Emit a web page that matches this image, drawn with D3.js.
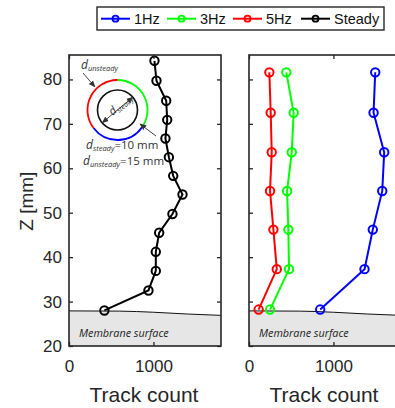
<!DOCTYPE html>
<html>
<head>
<meta charset="utf-8">
<script src="https://cdn.jsdelivr.net/npm/d3@7"></script>
<style>
  html, body { margin: 0; padding: 0; background: #fff; }
  svg { display: block; }
  .tick text { font-family: "Liberation Sans", Arial, sans-serif; font-size: 17px; fill: #262626; }
</style>
</head>
<body>
<svg id="chart" width="395" height="408"></svg>
<script>
// Height above the membrane (mm) and track counts per run
const steadyZ = [28.0, 32.5, 36.9, 41.2, 45.5, 49.7, 54.1, 58.3, 62.5, 66.7, 70.9, 75.2, 79.7, 84.2];
const steadyCount = [419, 941, 1028, 1028, 1068, 1225, 1344, 1234, 1183, 1142, 1163, 1151, 1036, 1012];

const pulseZ = [28.2, 37.3, 46.2, 54.9, 63.6, 72.5, 81.6];
const count1Hz = [843, 1368, 1466, 1578, 1601, 1475, 1495];
const count3Hz = [249, 474, 466, 451, 506, 529, 442];
const count5Hz = [114, 329, 289, 249, 269, 257, 241];

// Membrane surface profile
const surfaceCount = [0, 600, 1000, 1400, 1800];
const surfaceZ = [27.9, 27.85, 27.6, 27.2, 26.9];

const legendLabels = ["1Hz", "3Hz", "5Hz", "Steady"];
const legendColors = ["#0000ff", "#00ff00", "#ff0000", "#000000"];

const yTicks = [20, 30, 40, 50, 60, 70, 80];
const xTicks = [0, 1000];

const svg = d3.select("#chart");
const axisColor = "#262626";
const font = '"Liberation Sans", Arial, sans-serif';

const y = d3.scaleLinear().domain([20, 85.5]).range([346, 55]);
const xLeft = d3.scaleLinear().domain([0, 1800]).range([69, 221]);
const xRight = d3.scaleLinear().domain([0, 1800]).range([249, 401]);

function drawPanel(x, id, series, showYLabels) {
  const g = svg.append("g");
  const [x0, x1] = x.range();
  const [yb, yt] = y.range();

  g.append("clipPath").attr("id", id)
    .append("rect").attr("x", x0).attr("y", yt).attr("width", x1 - x0).attr("height", yb - yt);

  const plot = g.append("g").attr("clip-path", `url(#${id})`);

  // membrane surface region
  const surf = surfaceCount.map((c, i) => [c, surfaceZ[i]]);
  plot.append("path")
    .datum(surf)
    .attr("d", d3.area().x(d => x(d[0])).y0(y(20)).y1(d => y(d[1])).curve(d3.curveMonotoneX))
    .attr("fill", "#e6e6e6");
  plot.append("path")
    .datum(surf)
    .attr("d", d3.line().x(d => x(d[0])).y(d => y(d[1])).curve(d3.curveMonotoneX))
    .attr("fill", "none").attr("stroke", "#111").attr("stroke-width", 1);

  plot.append("text")
    .attr("x", x(0) + 10).attr("y", 337)
    .attr("font-family", '"Open Sans", "Noto Sans", sans-serif')
    .attr("font-style", "italic").attr("font-size", 10.8)
    .attr("fill", "#222")
    .text("Membrane surface");

  // series
  series.forEach(s => {
    const pts = s.z.map((z, i) => [s.c[i], z]);
    plot.append("path")
      .datum(pts)
      .attr("d", d3.line().x(d => x(d[0])).y(d => y(d[1])))
      .attr("fill", "none").attr("stroke", s.color).attr("stroke-width", 2);
    plot.selectAll(null).data(pts).enter().append("circle")
      .attr("cx", d => x(d[0])).attr("cy", d => y(d[1])).attr("r", 4.2)
      .attr("fill", "none").attr("stroke", s.color).attr("stroke-width", 2);
  });

  // axes with inward ticks
  const left = g.append("g").attr("transform", `translate(${x0},0)`)
    .call(d3.axisLeft(y).tickValues(yTicks).tickSize(-4).tickPadding(7)
      .tickFormat(showYLabels ? d3.format("d") : () => ""));
  const right = g.append("g").attr("transform", `translate(${x1},0)`)
    .call(d3.axisRight(y).tickValues(yTicks).tickSize(-4).tickFormat(() => ""));
  const bottom = g.append("g").attr("transform", `translate(0,${yb})`)
    .call(d3.axisBottom(x).tickValues(xTicks).tickSize(-4).tickPadding(14).tickFormat(d3.format("d")));
  const top = g.append("g").attr("transform", `translate(0,${yt})`)
    .call(d3.axisTop(x).tickValues(xTicks).tickSize(-4).tickFormat(() => ""));
  [left, right, bottom, top].forEach(a => {
    a.select(".domain").remove();
    a.selectAll("line").attr("stroke", axisColor).attr("stroke-width", 1.3);
  });

  g.append("rect")
    .attr("x", x0).attr("y", yt).attr("width", x1 - x0).attr("height", yb - yt)
    .attr("fill", "none").attr("stroke", axisColor).attr("stroke-width", 1.6);

  g.append("text")
    .attr("x", (x(0) + x(1800)) / 2 - 1).attr("y", 402)
    .attr("text-anchor", "middle")
    .attr("font-family", font).attr("font-size", 21).attr("fill", axisColor)
    .text("Track count");
  return g;
}

drawPanel(xLeft, "clipL", [
  { z: steadyZ, c: steadyCount, color: "#000000" }
], true);

drawPanel(xRight, "clipR", [
  { z: pulseZ, c: count5Hz, color: "#ff0000" },
  { z: pulseZ, c: count3Hz, color: "#00ff00" },
  { z: pulseZ, c: count1Hz, color: "#0000ff" }
], false);

// y-axis title
svg.append("text")
  .attr("transform", `translate(33,${y(52.6)}) rotate(-90)`)
  .attr("text-anchor", "middle")
  .attr("font-family", font).attr("font-size", 19).attr("fill", axisColor)
  .text("Z [mm]");

// inset sketch of the nozzle diameters
const defs = svg.append("defs");
defs.append("marker").attr("id", "head").attr("viewBox", "0 0 10 10")
  .attr("refX", 9).attr("refY", 5).attr("markerWidth", 7).attr("markerHeight", 7)
  .attr("markerUnits", "userSpaceOnUse").attr("orient", "auto-start-reverse")
  .append("path").attr("d", "M0,1 L10,5 L0,9 Z").attr("fill", "#333");

const cx = 117.5, cy = 110, rOut = 30, rIn = 20;
const arc = d3.arc().innerRadius(rOut).outerRadius(rOut);
const ring = [
  { a0: 0, a1: 125, color: "#00ff00" },
  { a0: 125, a1: 233, color: "#0000ff" },
  { a0: 233, a1: 360, color: "#ff0000" }
];
const inset = svg.append("g");
ring.forEach(r => {
  inset.append("path")
    .attr("transform", `translate(${cx},${cy})`)
    .attr("d", arc({ startAngle: r.a0 * Math.PI / 180, endAngle: r.a1 * Math.PI / 180 }))
    .attr("fill", "none").attr("stroke", r.color).attr("stroke-width", 1.8);
});
inset.append("circle").attr("cx", cx).attr("cy", cy).attr("r", rIn)
  .attr("fill", "none").attr("stroke", "#111").attr("stroke-width", 1.6);

// inner diameter double arrow
const ang = -40 * Math.PI / 180;
inset.append("line")
  .attr("x1", cx - rIn * Math.cos(ang)).attr("y1", cy - rIn * Math.sin(ang))
  .attr("x2", cx + rIn * Math.cos(ang)).attr("y2", cy + rIn * Math.sin(ang))
  .attr("stroke", "#333").attr("stroke-width", 0.9)
  .attr("marker-start", "url(#head)").attr("marker-end", "url(#head)");

const annFont = '"Open Sans", "Noto Sans", sans-serif';
const dSteadyIn = inset.append("text")
  .attr("transform", `translate(${cx - 5},${cy + 6}) rotate(-40)`)
  .attr("font-family", annFont).attr("fill", "#333");
dSteadyIn.append("tspan").attr("font-size", 11.5).attr("font-style", "italic").text("d");
dSteadyIn.append("tspan").attr("font-size", 7).attr("font-style", "italic").attr("dy", 2).text("steady");

// pointer arrows
inset.append("line").attr("x1", 83).attr("y1", 73).attr("x2", 95).attr("y2", 87)
  .attr("stroke", "#333").attr("stroke-width", 0.9).attr("marker-end", "url(#head)");
inset.append("line").attr("x1", 156).attr("y1", 136).attr("x2", 140).attr("y2", 124)
  .attr("stroke", "#333").attr("stroke-width", 0.9).attr("marker-end", "url(#head)");

function subLabel(xp, yp, sub, rest) {
  const t = inset.append("text").attr("x", xp).attr("y", yp)
    .attr("font-family", annFont).attr("fill", "#333");
  t.append("tspan").attr("font-size", 12).attr("font-style", "italic").text("d");
  t.append("tspan").attr("font-size", 7.5).attr("font-style", "italic").attr("dy", 2).text(sub);
  if (rest) t.append("tspan").attr("font-size", 11.5).attr("dy", -2).text(rest);
}
subLabel(81, 69, "unsteady", "");
subLabel(86, 149, "steady", "=10 mm");
subLabel(83, 165, "unsteady", "=15 mm");

// legend
const legend = svg.append("g");
legend.append("rect").attr("x", 97).attr("y", 7).attr("width", 287).attr("height", 23)
  .attr("fill", "#fff").attr("stroke", axisColor).attr("stroke-width", 1.4);
const legendX = [101, 167, 233, 301];
legendLabels.forEach((lab, i) => {
  const lx = legendX[i];
  legend.append("line").attr("x1", lx).attr("x2", lx + 29).attr("y1", 18.7).attr("y2", 18.7)
    .attr("stroke", legendColors[i]).attr("stroke-width", 2);
  legend.append("circle").attr("cx", lx + 14.5).attr("cy", 18.7).attr("r", 3)
    .attr("fill", "none").attr("stroke", legendColors[i]).attr("stroke-width", 1.8);
  legend.append("text").attr("x", lx + 33).attr("y", 24)
    .attr("font-family", font).attr("font-size", 14.5).attr("fill", "#111")
    .text(lab);
});
</script>
</body>
</html>
